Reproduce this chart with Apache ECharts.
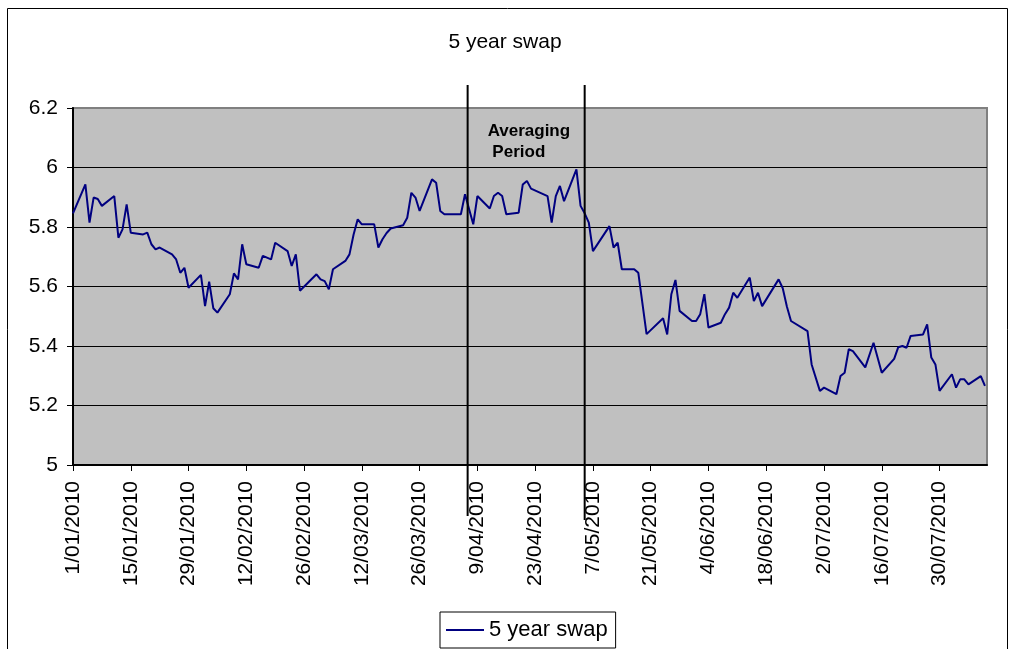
<!DOCTYPE html>
<html lang="en">
<head>
    <meta charset="UTF-8">
    <title>5 year swap</title>
    <script src="https://cdn.jsdelivr.net/npm/echarts@6/dist/echarts.min.js"></script>
    <style>
        html, body { margin: 0; padding: 0; background: #fff; }
    </style>
</head>
<body>
    <div id="main" style="width:1010px;height:649px;"></div>
</body>
<script>
// data (business days, 2010)
var dates = [
    '2010-01-01','2010-01-04','2010-01-05','2010-01-06','2010-01-07','2010-01-08',
    '2010-01-11','2010-01-12','2010-01-13','2010-01-14','2010-01-15',
    '2010-01-18','2010-01-19','2010-01-20','2010-01-21','2010-01-22',
    '2010-01-25','2010-01-26','2010-01-27','2010-01-28','2010-01-29',
    '2010-02-01','2010-02-02','2010-02-03','2010-02-04','2010-02-05',
    '2010-02-08','2010-02-09','2010-02-10','2010-02-11','2010-02-12',
    '2010-02-15','2010-02-16','2010-02-18','2010-02-19',
    '2010-02-22','2010-02-23','2010-02-24','2010-02-25',
    '2010-03-01','2010-03-02','2010-03-03','2010-03-04','2010-03-05',
    '2010-03-08','2010-03-09','2010-03-10','2010-03-11','2010-03-12',
    '2010-03-15','2010-03-16','2010-03-17','2010-03-18','2010-03-19',
    '2010-03-22','2010-03-23','2010-03-24','2010-03-25','2010-03-26',
    '2010-03-29','2010-03-30','2010-03-31','2010-04-01',
    '2010-04-05','2010-04-06','2010-04-08','2010-04-09',
    '2010-04-12','2010-04-13','2010-04-14','2010-04-15','2010-04-16',
    '2010-04-19','2010-04-20','2010-04-21','2010-04-22',
    '2010-04-26','2010-04-27','2010-04-28','2010-04-29','2010-04-30',
    '2010-05-03','2010-05-04','2010-05-05','2010-05-06','2010-05-07',
    '2010-05-11','2010-05-12','2010-05-13','2010-05-14',
    '2010-05-17','2010-05-18','2010-05-20',
    '2010-05-24','2010-05-25','2010-05-26','2010-05-27','2010-05-28',
    '2010-05-31','2010-06-01','2010-06-02','2010-06-03','2010-06-04',
    '2010-06-07','2010-06-08','2010-06-09','2010-06-10','2010-06-11',
    '2010-06-14','2010-06-15','2010-06-16','2010-06-17',
    '2010-06-21','2010-06-22','2010-06-23','2010-06-24',
    '2010-06-28','2010-06-29','2010-07-01','2010-07-02',
    '2010-07-05','2010-07-06','2010-07-07','2010-07-08','2010-07-09',
    '2010-07-12','2010-07-14','2010-07-16',
    '2010-07-19','2010-07-20','2010-07-21','2010-07-22','2010-07-23',
    '2010-07-26','2010-07-27','2010-07-28','2010-07-29','2010-07-30',
    '2010-08-02','2010-08-03','2010-08-04','2010-08-05','2010-08-06',
    '2010-08-09','2010-08-10'
];
var swap5y = [
    5.846,5.943,5.815,5.899,5.894,5.871,
    5.904,5.764,5.792,5.876,5.781,
    5.775,5.781,5.742,5.725,5.731,
    5.708,5.691,5.646,5.663,5.596,
    5.639,5.534,5.616,5.527,5.512,
    5.574,5.644,5.624,5.742,5.675,
    5.663,5.703,5.691,5.747,
    5.719,5.669,5.708,5.586,
    5.641,5.624,5.618,5.591,5.658,
    5.686,5.708,5.775,5.826,5.809,
    5.809,5.731,5.759,5.780,5.795,
    5.806,5.831,5.915,5.899,5.854,
    5.960,5.949,5.854,5.843,
    5.843,5.910,5.809,5.904,
    5.862,5.904,5.915,5.904,5.843,
    5.848,5.943,5.955,5.929,
    5.904,5.815,5.904,5.938,5.887,
    5.994,5.871,5.846,5.815,5.719,
    5.803,5.731,5.747,5.658,
    5.658,5.646,5.440,
    5.493,5.439,5.574,5.622,5.518,
    5.484,5.484,5.507,5.574,5.462,
    5.478,5.507,5.529,5.579,5.562,
    5.630,5.551,5.579,5.534,
    5.624,5.594,5.533,5.484,
    5.450,5.338,5.249,5.260,
    5.238,5.299,5.310,5.389,5.383,
    5.328,5.411,5.310,
    5.357,5.396,5.400,5.394,5.434,
    5.439,5.473,5.361,5.338,5.249,
    5.305,5.260,5.288,5.288,5.271,
    5.299,5.266
];
var tickDates = [
    '2010-01-01','2010-01-15','2010-01-29','2010-02-12','2010-02-26','2010-03-12',
    '2010-03-26','2010-04-09','2010-04-23','2010-05-07','2010-05-21','2010-06-04',
    '2010-06-18','2010-07-02','2010-07-16','2010-07-30'
];
var periodDates = ['2010-04-07', '2010-05-05'];
var startDate = '2010-01-01';
var endDate = '2010-08-10';

var FONT = 'Liberation Sans, Arial, sans-serif';

// days since the first date
function dayNum(s) {
    var p = s.split('-');
    var q = startDate.split('-');
    return Math.round((Date.UTC(+p[0], +p[1] - 1, +p[2]) - Date.UTC(+q[0], +q[1] - 1, +q[2])) / 86400000);
}
function dayLabel(v) {
    var q = startDate.split('-');
    var d = new Date(Date.UTC(+q[0], +q[1] - 1, +q[2]) + Math.round(v) * 86400000);
    var mm = d.getUTCMonth() + 1;
    return d.getUTCDate() + '/' + (mm < 10 ? '0' + mm : mm) + '/' + d.getUTCFullYear();
}

var seriesData = [];
for (var i = 0; i < dates.length; i++) {
    seriesData.push([dayNum(dates[i]), swap5y[i]]);
}
var tickDays = tickDates.map(dayNum);

var chart = echarts.init(document.getElementById('main'));
chart.setOption({
    animation: false,
    backgroundColor: '#fff',
    title: {
        text: '5 year swap',
        left: 'center',
        top: 27,
        textStyle: { color: '#000', fontSize: 21, fontWeight: 'normal', fontFamily: FONT }
    },
    grid: {
        left: 73,
        top: 108,
        right: 23,
        bottom: 184,
        show: true,
        backgroundColor: '#c0c0c0',
        borderColor: '#808080',
        borderWidth: 2
    },
    legend: {
        left: 440,
        top: 612,
        padding: [7, 8, 7, 6],
        backgroundColor: '#fff',
        borderColor: '#000',
        borderWidth: 1,
        borderRadius: 0,
        icon: 'rect',
        itemWidth: 38,
        itemHeight: 2,
        textStyle: { color: '#000', fontSize: 22, fontFamily: FONT },
        data: ['5 year swap']
    },
    xAxis: {
        type: 'value',
        min: 0,
        max: dayNum(endDate) + 0.5,
        splitLine: { show: false },
        axisLine: { show: true, lineStyle: { color: '#000', width: 2 } },
        axisTick: { show: true, length: 6, customValues: tickDays, lineStyle: { color: '#000', width: 1 } },
        axisLabel: {
            customValues: tickDays,
            rotate: 90,
            margin: 16,
            color: '#000',
            fontSize: 21,
            fontFamily: FONT,
            formatter: function (v) { return dayLabel(v); }
        }
    },
    yAxis: {
        type: 'value',
        min: 5,
        max: 6.2,
        interval: 0.2,
        axisLine: { show: true, lineStyle: { color: '#000', width: 2 } },
        axisTick: { show: true, length: 6, lineStyle: { color: '#000', width: 1 } },
        axisLabel: {
            margin: 15,
            color: '#000',
            fontSize: 21,
            fontFamily: FONT,
            formatter: function (v) { return String(Math.round(v * 10) / 10); }
        },
        splitLine: { show: true, showMaxLine: false, lineStyle: { color: '#000', width: 1 } }
    },
    series: [
        {
            name: '5 year swap',
            type: 'line',
            data: seriesData,
            showSymbol: false,
            symbol: 'none',
            color: '#000080',
            lineStyle: { color: '#000080', width: 2 }
        }
    ]
});

// averaging period lines run past the plot, so draw them with graphic at axis positions
var px1 = chart.convertToPixel({ xAxisIndex: 0 }, dayNum(periodDates[0])) - 1.5;
var px2 = chart.convertToPixel({ xAxisIndex: 0 }, dayNum(periodDates[1]));
chart.setOption({
    graphic: [
        {
            type: 'rect',
            shape: { x: 7.5, y: 8.5, width: 1000, height: 700 },
            style: { fill: 'none', stroke: '#000', lineWidth: 1 },
            silent: true
        },
        {
            type: 'line',
            shape: { x1: px1, y1: 85, x2: px1, y2: 516 },
            style: { stroke: '#000', lineWidth: 2 },
            z: 100
        },
        {
            type: 'line',
            shape: { x1: px2, y1: 85, x2: px2, y2: 520 },
            style: { stroke: '#000', lineWidth: 2 },
            z: 100
        },
        {
            type: 'text',
            left: px1 + 20,
            top: 121,
            style: {
                text: 'Averaging\n Period',
                fill: '#000',
                font: 'bold 17px ' + FONT,
                lineHeight: 21
            },
            z: 100
        }
    ]
});
</script>
</html>
